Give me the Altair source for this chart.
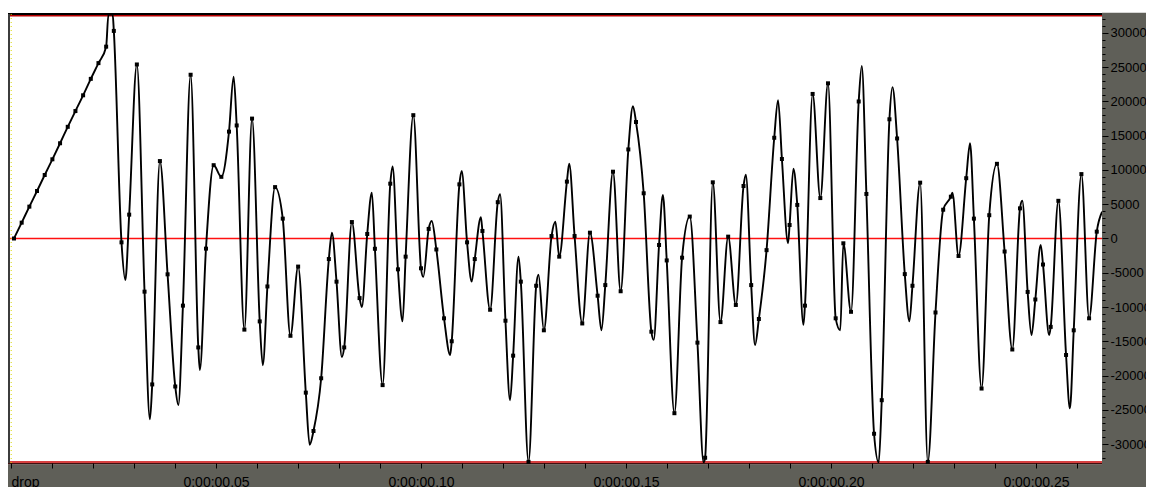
import altair as alt
import pandas as pd

# ---- data (sample index -> amplitude) ----
SAMPLE_VALUES = [
    0, 2310, 4650, 6930, 9270, 11560, 13900, 16300, 18600, 20900,
    23300, 25600, 28000, 30300, -560, 3480, 25400, -7760, -21300, 11300,
    -5230, -21600, -9800, 23900, -15900, -1480, 10700, 9000, 15600, 16500,
    -13300, 17500, -12100, -7000, 7500, 2900, -14200, -4100, -22500, -28100,
    -20400, -3000, -6300, -15900, 2400, -8700, 660, -1500, -21400, 8000,
    -4500, -2650, 18000, -4350, 1400, -1600, -11650, -15000, 7900, -560,
    -3000, 1100, -10400, 5300, -12000, -17100, -6300, -32600, -6900, -13400,
    360, -2650, 8300, 360, -12400, 850, -8350, -6800, 9750, -7700,
    13000, 17000, 6600, -13600, -950, -3200, -25500, -2800, 3200, -15200,
    -32000, 8200, -12200, 270, -9700, 7660, -6800, -11750, -1700, 14700,
    11600, 1970, 4900, -9800, 21100, 5900, 22650, -11650, -700, -10700,
    20000, 6500, -28500, -23600, 17400, 14600, -5200, -6900, 8150, -32600,
    -10800, 4200, 6100, -2550, 8800, 2900, -21900, 3400, 10900, -1900,
    -16200, 4400, -7800, -8900, -3800, -12900, 5500, -17000, -13400, 9400,
    -11650, 1000,
]

# peaks / troughs of the drawn waveform that fall between samples
EXTREMA_POS = [
    12.3, 12.85, 14.5, 17.7, 21.4, 24.2, 28.6, 32.4, 38.5, 41.4,
    42.7, 45.3, 46.6, 49.3, 50.6, 53.3, 54.4, 56.8, 58.3, 59.6,
    60.8, 63.3, 64.6, 65.7, 68.3, 70.5, 72.3, 76.5, 80.6, 83.3,
    84.5, 89.8, 95.3, 96.5, 99.5, 100.8, 101.5, 102.8, 107.6, 110.4,
    112.6, 114.4, 116.6, 122.2, 124.5, 131.3, 132.5, 133.7, 134.8, 137.5,
    141.7,
]
EXTREMA_VALUES = [
    32700, 32700, -6060, -26400, -24300, -19200, 23600, -18500, -30100, 850,
    -17300, -10000, 6700, 10500, -12100, -5600, 2550, -17000, 9850, -6300,
    3100, 6450, -23600, -2650, -5300, 2450, 10900, -13400, 19300, -14800,
    6350, -32700, 9300, -15550, 20200, -700, 10200, -12600, -13400, 25200,
    -32700, 22100, -12100, 6700, 13900, 5500, -14100, -950, -14100, -24800,
    3900,
]

SAMPLE_START_MS = 0.73
SAMPLE_STEP_MS = 1.873

X_TICKS = list(range(0, 270, 10))          # ms
Y_TICKS = list(range(-32000, 33000, 1000))  # amplitude

W, H = 1092, 449
BAND = "#5f5f58"
FONT = "Liberation Sans"

samples = pd.DataFrame({"pos": list(range(len(SAMPLE_VALUES))), "v": SAMPLE_VALUES})
extrema = pd.DataFrame({"pos": EXTREMA_POS, "v": EXTREMA_VALUES})
wave = pd.concat([samples, extrema], ignore_index=True).sort_values("pos")
wave["t"] = SAMPLE_START_MS + wave["pos"] * SAMPLE_STEP_MS
samples["t"] = SAMPLE_START_MS + samples["pos"] * SAMPLE_STEP_MS

one = pd.DataFrame({"k": [0]})

xscale = alt.Scale(domain=[-0.244, 266.1], nice=False, zero=False)
yscale = alt.Scale(domain=[-32768, 32767], nice=False, zero=False)

x_label_expr = (
    "datum.value == 0 ? 'drop' : (datum.value % 50 == 0 ? '0:00:00.' + "
    "(datum.value < 100 ? '0' : '') + format(datum.value / 10, 'd') : '')"
)
y_label_expr = (
    "datum.value % 5000 == 0 ? (datum.value >= 0 ? '\u00a0' : '') + datum.value : ''"
)

xaxis = alt.Axis(
    values=X_TICKS, labelExpr=x_label_expr, domain=False, grid=False,
    tickColor="black", tickSize=5, tickWidth=1,
    labelFont=FONT, labelFontSize=14, labelColor="black",
    labelPadding=18.5, labelBaseline="alphabetic",
    labelAlign={"condition": {"test": "datum.value == 0", "value": "left"}, "value": "center"},
    labelOverlap=False, labelFlush=False, title=None, zindex=2,
)
yaxis = alt.Axis(
    orient="right", values=Y_TICKS, labelExpr=y_label_expr, domain=False, grid=False,
    tickColor="black", tickWidth=1,
    tickSize={"condition": {"test": "datum.value % 5000 == 0", "value": 6}, "value": 3},
    labelFont=FONT, labelFontSize=13, labelColor="black",
    labelPadding=2, labelAlign="left", labelBaseline="middle",
    labelOverlap=False, labelFlush=False, title=None, zindex=2,
)

# gray frame bands (right and bottom)
right_band = alt.Chart(one).mark_rect(color=BAND).encode(
    x=alt.value(W), x2=alt.value(W + 80), y=alt.value(-1.3), y2=alt.value(H + 40)
)
bottom_band = alt.Chart(one).mark_rect(color=BAND).encode(
    x=alt.value(-2), x2=alt.value(W + 80), y=alt.value(H + 1.3), y2=alt.value(H + 40)
)

zero_line = alt.Chart(one).mark_rule(color="#ff1010", strokeWidth=1.4).encode(
    y=alt.Y(datum=0, scale=yscale, axis=yaxis), x=alt.value(0), x2=alt.value(W)
)

top_black = alt.Chart(one).mark_rule(color="#000000", strokeWidth=1.8).encode(
    y=alt.value(0), x=alt.value(-2), x2=alt.value(W)
)
top_red = alt.Chart(one).mark_rule(color="#b80000", strokeWidth=1.4).encode(
    y=alt.value(1.8), x=alt.value(0), x2=alt.value(W)
)
bottom_red = alt.Chart(one).mark_rule(color="#c80000", strokeWidth=1.4).encode(
    y=alt.value(H - 1), x=alt.value(-2), x2=alt.value(W)
)
bottom_dark = alt.Chart(one).mark_rule(color="#401010", strokeWidth=1.2).encode(
    y=alt.value(H + 0.6), x=alt.value(-2), x2=alt.value(W)
)
left_dark = alt.Chart(one).mark_rule(color="#3c3c3c", strokeWidth=2).encode(
    x=alt.value(-1), y=alt.value(0), y2=alt.value(H)
)
left_yellow = alt.Chart(one).mark_rule(color="#d8d800", strokeWidth=1, strokeDash=[1, 3]).encode(
    x=alt.value(1.2), y=alt.value(0), y2=alt.value(H)
)

waveline = alt.Chart(wave).mark_line(
    color="black", strokeWidth=1.9, interpolate="monotone", clip=True
).encode(
    x=alt.X("t:Q", scale=xscale, axis=xaxis),
    y=alt.Y("v:Q", scale=yscale, axis=yaxis),
    order="pos:Q",
)

dots = alt.Chart(samples).mark_square(
    color="black", size=16, opacity=1, filled=True
).encode(
    x=alt.X("t:Q", scale=xscale, axis=xaxis),
    y=alt.Y("v:Q", scale=yscale, axis=yaxis),
)

chart = alt.layer(
    right_band, bottom_band, zero_line, top_black, top_red, bottom_red, bottom_dark,
    left_dark, left_yellow, waveline, dots,
).properties(
    width=W, height=H,
    padding={"left": 2, "top": 6, "right": 44, "bottom": 24},
    autosize=alt.AutoSizeParams(type="none"),
    background="white",
).configure_view(stroke=None, fill="white")

chart.save("out.html", embed_options={"renderer": "svg", "actions": False})
